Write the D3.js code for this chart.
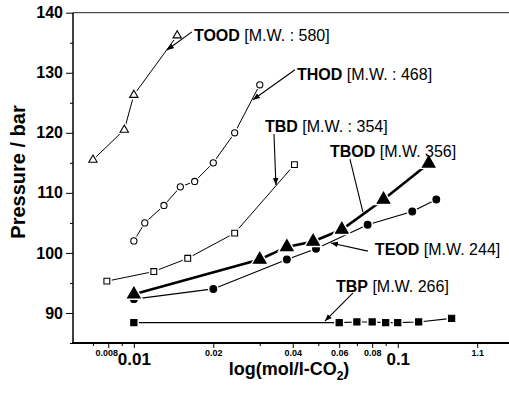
<!DOCTYPE html>
<html lang="en">

<head>
    <meta charset="UTF-8">
    <title>Pressure vs log(mol/l-CO2)</title>
    <script src="https://d3js.org/d3.v7.min.js"></script>
    <style>
        body { margin: 0; background: #fff; }
        text { font-family: "Liberation Sans", Arial, sans-serif; }
    </style>
</head>

<body>
    <script>
        let width = 509;
        let height = 394;

        // data
        const toodX = [0.0070, 0.0092, 0.0100, 0.0146];
        const toodY = [115.5, 120.5, 126.3, 136.2];
        const thodX = [0.0100, 0.0110, 0.0130, 0.0150, 0.0170, 0.0200, 0.0241, 0.0300];
        const thodY = [102.0, 105.0, 107.9, 111.0, 111.9, 115.0, 120.0, 128.0];
        const tbdX = [0.0079, 0.0119, 0.0160, 0.0241, 0.0406];
        const tbdY = [95.3, 96.9, 99.1, 103.3, 114.7];
        const tbodX = [0.0100, 0.0300, 0.0380, 0.0478, 0.0614, 0.0883, 0.1310];
        const tbodY = [93.1, 98.9, 101.0, 101.9, 103.9, 108.9, 114.9];
        const teodX = [0.0100, 0.0200, 0.0380, 0.0490, 0.0769, 0.1135, 0.1400];
        const teodY = [92.3, 94.0, 98.9, 100.7, 104.7, 106.9, 108.9];
        const tbpX = [0.0100, 0.0600, 0.0700, 0.0800, 0.0900, 0.1000, 0.1200, 0.1600];
        const tbpY = [88.4, 88.4, 88.5, 88.5, 88.4, 88.4, 88.5, 89.1];

        // axis ticks
        const yTicks = [90, 100, 110, 120, 130, 140];
        const yMinorTicks = [85, 95, 105, 115, 125, 135];
        const xTicks = [0.008, 0.01, 0.02, 0.04, 0.06, 0.08, 0.1, 0.2];
        const xTickLabels = ["0.008", "0.01", "0.02", "0.04", "0.06", "0.08", "0.1", "1.1"];
        const xBigLabels = ["0.01", "0.1"];
        const xMinorTicks = [0.007, 0.009, 0.03, 0.05, 0.07, 0.09];

        // labels: name, molecular weight text, text anchor [x, y], arrow from, arrow to, head?
        const labelNames = ["TOOD", "THOD", "TBD", "TBOD", "TEOD", "TBP"];
        const labelRest = [" [M.W. : 580]", " [M.W. : 468]", " [M.W. : 354]", " [M.W. 356]", " [M.W. 244]", " [M.W. 266]"];
        const labelAt = [[0.01689, 135.3], [0.0415, 128.8], [0.03139, 120.1], [0.05534, 116.0], [0.0819, 99.65], [0.05832, 93.5]];
        const arrowFrom = [[0.0166, 136.8], [0.0408, 130.5], [0.03396, 119.8], [0.0659, 115.6], [0.0771, 100.3], [0.0677, 93.33]];
        const arrowTo = [[0.01334, 133.8], [0.02827, 125.5], [0.03455, 111.3], [0.0738, 106.8], [0.05583, 101.65], [0.05298, 88.66]];
        const arrowHead = [true, true, true, false, true, true];

        let svg = d3.select("body")
            .append("svg")
            .attr("width", width)
            .attr("height", height);

        let x = d3.scaleLog().domain([0.00588, 0.264]).range([73, 509]);
        let y = d3.scaleLinear().domain([85, 140]).range([343, 12.7]);

        svg.append("defs").append("marker")
            .attr("id", "head")
            .attr("viewBox", "0 0 10 10")
            .attr("refX", 10).attr("refY", 5)
            .attr("markerWidth", 7).attr("markerHeight", 7)
            .attr("markerUnits", "userSpaceOnUse")
            .attr("orient", "auto")
            .append("path")
            .attr("d", "M0,1 L10,5 L0,9 Z")
            .attr("fill", "#000");

        // top frame line
        svg.append("line")
            .attr("x1", 73).attr("x2", width)
            .attr("y1", y(140)).attr("y2", y(140))
            .attr("stroke", "#222").attr("stroke-width", 1);

        // y axis
        let yAxis = svg.append("g")
            .attr("transform", "translate(73,0)")
            .call(d3.axisLeft(y).tickValues(yTicks).tickSize(7).tickPadding(3).tickFormat(d3.format("d")));
        svg.append("g")
            .attr("transform", "translate(73,0)")
            .call(d3.axisLeft(y).tickValues(yMinorTicks).tickSize(3).tickFormat(""))
            .select(".domain").remove();
        yAxis.selectAll("text")
            .style("font-size", "16px").style("font-weight", "bold");
        yAxis.select(".domain").attr("stroke-width", 1.5).attr("d", `M0,${y(85)}V${y(140)}`);

        // x axis
        let xAxis = svg.append("g")
            .attr("transform", "translate(0,343)")
            .call(d3.axisBottom(x).tickValues(xTicks).tickSize(5).tickPadding(2)
                .tickFormat((d, i) => xTickLabels[i]));
        svg.append("g")
            .attr("transform", "translate(0,343)")
            .call(d3.axisBottom(x).tickValues(xMinorTicks).tickSize(3).tickFormat(""))
            .select(".domain").remove();
        xAxis.select(".domain").attr("stroke-width", 2).attr("d", `M72,0H${width}`);
        xAxis.selectAll("text")
            .style("font-weight", "bold")
            .style("font-size", (d, i) => xBigLabels.includes(xTickLabels[i]) ? "17px" : "9px")
            .attr("dy", (d, i) => xBigLabels.includes(xTickLabels[i]) ? "0.9em" : "0.68em")
            .attr("dx", (d, i) => xTickLabels[i] === "0.008" ? -2 : 0);

        svg.selectAll(".tick line").attr("stroke", "#000");

        // axis titles
        svg.append("text")
            .attr("transform", "translate(25,172) rotate(-90)")
            .attr("text-anchor", "middle")
            .style("font-size", "20px").style("font-weight", "bold")
            .text("Pressure / bar");

        let xt = svg.append("text")
            .attr("x", 289).attr("y", 375)
            .attr("text-anchor", "middle")
            .style("font-size", "18px").style("font-weight", "bold");
        xt.append("tspan").text("log(mol/l-CO");
        xt.append("tspan").attr("dy", 5).style("font-size", "12px").text("2");
        xt.append("tspan").attr("dy", -5).text(")");

        // series
        let series = [
            { xs: toodX, ys: toodY, sym: d3.symbolTriangle, size: 30, fill: "#fff", lw: 1 },
            { xs: thodX, ys: thodY, sym: d3.symbolCircle, size: 30, fill: "#fff", lw: 1 },
            { xs: tbdX, ys: tbdY, sym: d3.symbolSquare, size: 34, fill: "#fff", lw: 1 },
            { xs: teodX, ys: teodY, sym: d3.symbolCircle, size: 36, fill: "#000", lw: 1.2 },
            { xs: tbpX, ys: tbpY, sym: d3.symbolSquare, size: 38, fill: "#000", lw: 1.2 },
            { xs: tbodX, ys: tbodY, sym: d3.symbolTriangle, size: 70, fill: "#000", lw: 2.6 }
        ];

        let line = d3.line().x(d => x(d[0])).y(d => y(d[1]));

        series.forEach(s => {
            let pts = s.xs.map((v, i) => [v, s.ys[i]]);
            svg.append("path")
                .attr("d", line(pts))
                .attr("fill", "none")
                .attr("stroke", "#000")
                .attr("stroke-width", s.lw);
            let sym = d3.symbol().type(s.sym).size(s.size);
            // white halo gives the gap round each symbol
            svg.append("g").selectAll("path")
                .data(pts).enter().append("path")
                .attr("transform", d => `translate(${x(d[0])},${y(d[1])})`)
                .attr("d", sym)
                .attr("fill", "#fff").attr("stroke", "#fff").attr("stroke-width", 4);
            svg.append("g").selectAll("path")
                .data(pts).enter().append("path")
                .attr("transform", d => `translate(${x(d[0])},${y(d[1])})`)
                .attr("d", sym)
                .attr("fill", s.fill)
                .attr("stroke", "#000").attr("stroke-width", 1.1);
        });

        // labels and arrows
        labelNames.forEach((name, i) => {
            let a = svg.append("line")
                .attr("x1", x(arrowFrom[i][0])).attr("y1", y(arrowFrom[i][1]))
                .attr("x2", x(arrowTo[i][0])).attr("y2", y(arrowTo[i][1]))
                .attr("stroke", "#000").attr("stroke-width", 1.1);
            if (arrowHead[i]) a.attr("marker-end", "url(#head)");
            let t = svg.append("text")
                .attr("x", x(labelAt[i][0])).attr("y", y(labelAt[i][1]))
                .style("font-size", "16px");
            t.append("tspan").style("font-weight", "bold").text(name);
            t.append("tspan").text(labelRest[i]);
        });
    </script>
</body>

</html>
